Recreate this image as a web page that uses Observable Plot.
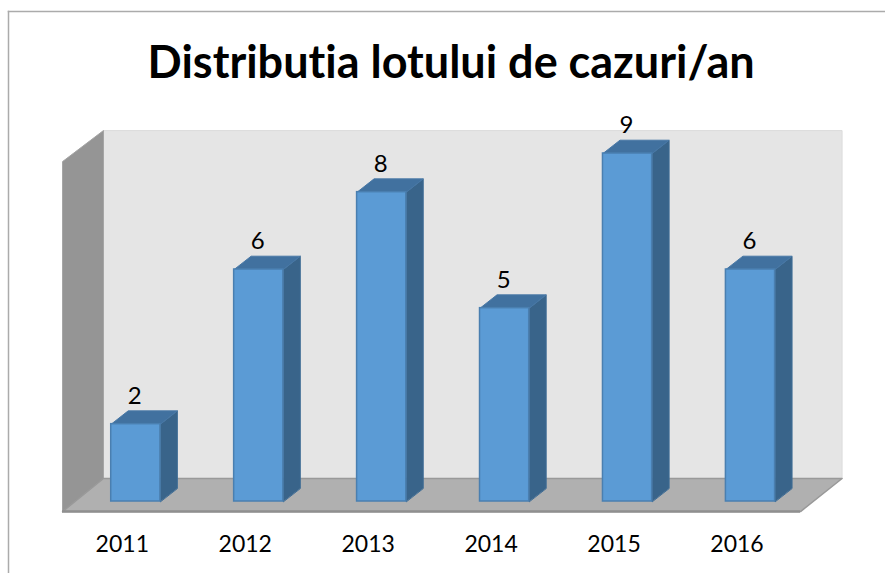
<!DOCTYPE html>
<html>
<head>
<meta charset="utf-8">
<script src="https://cdn.jsdelivr.net/npm/d3@7"></script>
<script src="https://cdn.jsdelivr.net/npm/@observablehq/plot@0.6"></script>
<style>
html,body{margin:0;padding:0;background:#fff;overflow:hidden}
svg{display:block;font-variant-ligatures:none}
</style>
</head>
<body>
<div id="chart"></div>
<script>
const titleText = "Distributia lotului de cazuri/an";
const years = ["2011","2012","2013","2014","2015","2016"];
const cases = [2,6,8,5,9,6];

// chart-box geometry, in data units (x: category index, y: cases)
const halfWidth = 0.2, depthX = 0.138, depthY = 0.344;
const leftFront = -0.596, leftBack = -0.263, rightBack = 5.745, rightFront = 5.407;
const floorFront = -0.26, floorBack = 0.595, wallTopBack = 9.594, wallTopFront = 8.79;

const poly = (id, pts) => pts.map(([x,y]) => ({id,x,y}));
const back = poly("back", [[leftBack,floorBack],[leftBack,wallTopBack],[rightBack,wallTopBack],[rightBack,floorBack]]);
const left = poly("left", [[leftFront,floorFront],[leftFront,wallTopFront],[leftBack,wallTopBack],[leftBack,floorBack]]);
const floor = poly("floor", [[leftFront,floorFront],[leftBack,floorBack],[rightBack,floorBack],[rightFront,floorFront]]);

const sideFaces = cases.flatMap((v,i) => poly("s"+i, [[i+halfWidth,0],[i+halfWidth,v],[i+halfWidth+depthX,v+depthY],[i+halfWidth+depthX,depthY]]));
const topFaces = cases.flatMap((v,i) => poly("t"+i, [[i-halfWidth,v],[i-halfWidth+depthX,v+depthY],[i+halfWidth+depthX,v+depthY],[i+halfWidth,v]]));
const frontFaces = cases.map((v,i) => ({i,v}));

const face = (data, fill, stroke, strokeWidth=1) => Plot.line(data, {x:"x", y:"y", z:"id", curve:"linear-closed", fill, stroke, strokeWidth});

const chart = Plot.plot({
  width:885, height:573,
  marginTop:11, marginLeft:8, marginRight:0, marginBottom:0,
  style:{background:"#fff", fontFamily:"Lato, 'Open Sans', sans-serif", overflow:"visible"},
  x:{type:"linear", domain:[0,5], range:[135.3,750], axis:null},
  y:{type:"linear", domain:[0,9], range:[501,153], axis:null},
  marks:[
    Plot.frame({anchor:"left", stroke:"#ababab", strokeWidth:1.5}),
    Plot.frame({anchor:"top", stroke:"#ababab", strokeWidth:1.5}),
    face(back,"#e5e5e5","#dcdcdc"),
    face(left,"#959595","#a5a5a5"),
    face(floor,"#b0b0b0","#999999",1.5),
    Plot.ruleY([floorFront],{x1:leftFront,x2:rightFront,stroke:"#8f8f8f",strokeWidth:2.5}),
    face(sideFaces,"#39648a","#3f6d96",1),
    face(topFaces,"#41719f","#4878a6",1),
    Plot.rect(frontFaces,{x1:d=>d.i-halfWidth,x2:d=>d.i+halfWidth,y1:0,y2:"v",fill:"#5b9bd5",stroke:"#4a7fb0",strokeWidth:1.5,inset:0}),
    Plot.text(cases,{x:(d,i)=>i,y:d=>d,text:d=>String(d),dx:-1,dy:-28,fontSize:24,fill:"#000"}),
    Plot.axisX({anchor:"bottom",ticks:d3.range(years.length),tickFormat:i=>years[i],tickSize:0,tickPadding:0,dx:-13.5,dy:-38,fontSize:23,color:"#000",label:null}),
    Plot.text([titleText],{frameAnchor:"top",x:()=>2.565,dy:35,lineAnchor:"top",fontSize:45,fontWeight:700,fill:"#000",textAnchor:"middle"})
  ]
});
document.getElementById("chart").append(chart);
</script>
</body>
</html>
